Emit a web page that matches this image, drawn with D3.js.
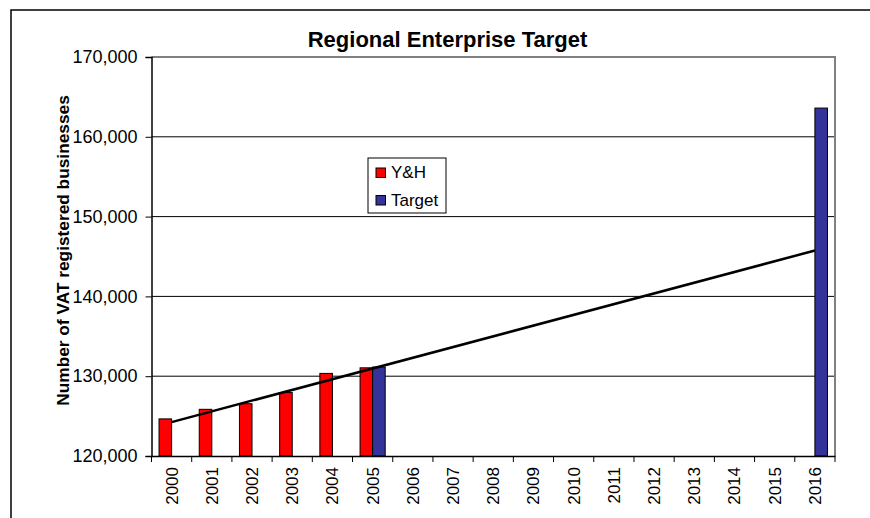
<!DOCTYPE html>
<html>
<head>
<meta charset="utf-8">
<script src="https://cdn.jsdelivr.net/npm/d3@7"></script>
<style>
  html, body { margin: 0; padding: 0; background: #fff; }
  svg { display: block; font-family: "Liberation Sans", Arial, sans-serif; }
</style>
</head>
<body>
<svg id="chart" width="870" height="518"></svg>
<script>
// ---- data ----
const years = ["2000","2001","2002","2003","2004","2005","2006","2007","2008","2009","2010","2011","2012","2013","2014","2015","2016"];
const seriesNames = ["Y&H", "Target"];
const yhValues     = [124650, 125850, 126550, 127950, 130350, 131050, null, null, null, null, null, null, null, null, null, null, null];
const targetValues = [null, null, null, null, null, 131150, null, null, null, null, null, null, null, null, null, null, 163600];
const trendYears  = ["2000", "2016"];
const trendValues = [124250, 145750];
const yTicks = [120000, 130000, 140000, 150000, 160000, 170000];
const colors = ["#ff0000", "#333399"];

// ---- layout ----
const svg = d3.select("#chart");
const L = 151.5, R = 835, T = 57, B = 456;

svg.append("rect").attr("width", 870).attr("height", 518).attr("fill", "#fff");

// outer frame (left and top edges visible)
svg.append("path").attr("d", "M11,518 V10 H870").attr("fill", "none").attr("stroke", "#000").attr("stroke-width", 1.5);

const x = d3.scaleBand().domain(years).range([L, R]).paddingInner(0).paddingOuter(0);
const xSub = d3.scaleBand().domain(seriesNames).range([0, x.bandwidth()]).paddingInner(0).paddingOuter(0.6);
const y = d3.scaleLinear().domain([120000, 170000]).range([B, T]);

// gridlines
svg.append("g").selectAll("line").data(yTicks.filter(v => v > 120000 && v < 170000)).join("line")
  .attr("x1", L).attr("x2", R).attr("y1", d => y(d)).attr("y2", d => y(d))
  .attr("stroke", "#000").attr("stroke-width", 1);

// plot-area border (top and right, grey)
svg.append("path").attr("d", `M${L},${y(170000)} H${R} V${B}`).attr("fill", "none")
  .attr("stroke", "#808080").attr("stroke-width", 2);

// bars
const barData = [];
years.forEach((yr, i) => {
  if (yhValues[i] != null) barData.push({ year: yr, s: seriesNames[0], v: yhValues[i], c: colors[0] });
  if (targetValues[i] != null) barData.push({ year: yr, s: seriesNames[1], v: targetValues[i], c: colors[1] });
});
svg.append("g").selectAll("rect").data(barData).join("rect")
  .attr("x", d => x(d.year) + xSub(d.s))
  .attr("width", xSub.bandwidth())
  .attr("y", d => y(d.v))
  .attr("height", d => y(120000) - y(d.v))
  .attr("fill", d => d.c)
  .attr("stroke", "#000").attr("stroke-width", 1);

// trend line
const line = d3.line().x(d => x(d[0]) + x.bandwidth() / 2).y(d => y(d[1]));
svg.append("path").datum(trendYears.map((yr, i) => [yr, trendValues[i]]))
  .attr("d", line).attr("fill", "none").attr("stroke", "#000").attr("stroke-width", 2.5);

// y axis
const yAxis = d3.axisLeft(y).tickValues(yTicks).tickSize(6).tickPadding(8).tickFormat(d3.format(","));
const gy = svg.append("g").attr("transform", `translate(${L},0)`).call(yAxis);
gy.select(".domain").attr("stroke", "#000").attr("stroke-width", 1.5);
gy.selectAll(".tick line").attr("stroke", "#000");
gy.selectAll("text").attr("font-size", 18).attr("fill", "#000")
  .attr("font-family", "'Liberation Sans', Arial, sans-serif");

// x axis
const xAxis = d3.axisBottom(x).tickSize(0).tickPadding(0);
const gx = svg.append("g").attr("transform", `translate(0,${B})`).call(xAxis);
gx.select(".domain").attr("stroke", "#000").attr("stroke-width", 1.5);
gx.selectAll("text")
  .attr("font-size", 17).attr("fill", "#000")
  .attr("font-family", "'Liberation Sans', Arial, sans-serif")
  .attr("text-anchor", "end")
  .attr("transform", "rotate(-90)")
  .attr("x", -11).attr("y", 0).attr("dy", "0.35em");
// boundary ticks between categories
const bounds = years.map(yr => x(yr)).concat([R]);
svg.append("g").selectAll("line").data(bounds).join("line")
  .attr("x1", d => d).attr("x2", d => d).attr("y1", B).attr("y2", B + 6)
  .attr("stroke", "#000").attr("stroke-width", 1);

// title
svg.append("text").attr("x", 447.5).attr("y", 46.5).attr("text-anchor", "middle")
  .attr("font-size", 22).attr("font-weight", "bold").text("Regional Enterprise Target");

// y label
svg.append("text").attr("transform", "translate(69,250.5) rotate(-90)").attr("text-anchor", "middle")
  .attr("font-size", 17.3).attr("font-weight", "bold").text("Number of VAT registered businesses");

// legend
const lg = svg.append("g");
lg.append("rect").attr("x", 368).attr("y", 158).attr("width", 78).attr("height", 55)
  .attr("fill", "#fff").attr("stroke", "#000").attr("stroke-width", 1);
const items = lg.selectAll("g.item").data(seriesNames).join("g").attr("class", "item")
  .attr("transform", (d, i) => `translate(376,${168 + i * 27.5})`);
items.append("rect").attr("width", 9.5).attr("height", 9.5)
  .attr("fill", (d, i) => colors[i]).attr("stroke", "#000").attr("stroke-width", 1);
items.append("text").attr("x", 15).attr("y", 10).attr("font-size", 17).text(d => d);
</script>
</body>
</html>
